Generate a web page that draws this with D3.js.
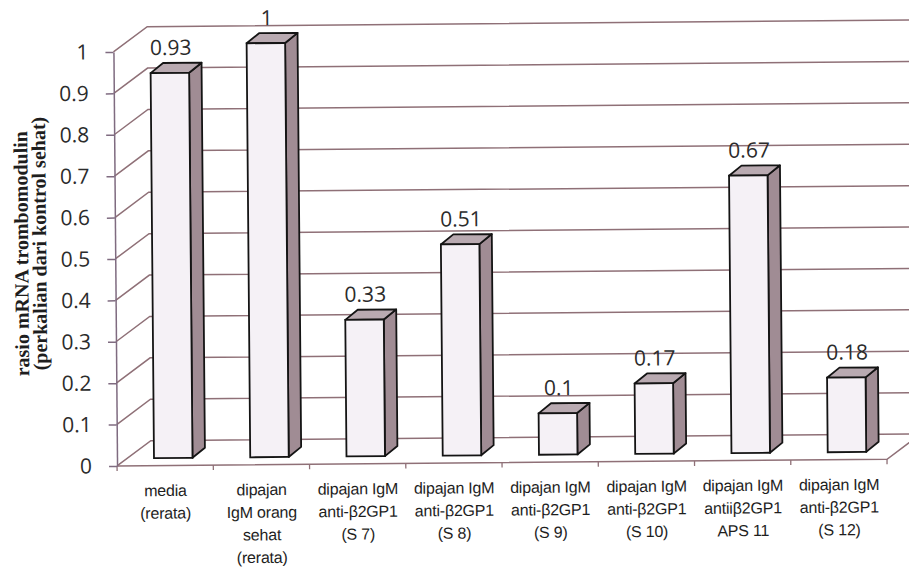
<!DOCTYPE html>
<html>
<head>
<meta charset="utf-8">
<script src="https://cdn.jsdelivr.net/npm/d3@7"></script>
<style>
  html, body { margin: 0; padding: 0; background: #ffffff; }
  svg { display: block; }
</style>
</head>
<body>
<svg id="chart" width="909" height="573"></svg>
<script>
// Thrombomodulin mRNA ratio per treatment group
const categories = [
  "media\n(rerata)",
  "dipajan\nIgM orang\nsehat\n(rerata)",
  "dipajan IgM\nanti-β2GP1\n(S 7)",
  "dipajan IgM\nanti-β2GP1\n(S 8)",
  "dipajan IgM\nanti-β2GP1\n(S 9)",
  "dipajan IgM\nanti-β2GP1\n(S 10)",
  "dipajan IgM\nantiiβ2GP1\nAPS 11",
  "dipajan IgM\nanti-β2GP1\n(S 12)"
];
const values = [0.93, 1, 0.33, 0.51, 0.1, 0.17, 0.67, 0.18];
const valueLabels = ["0.93", "1", "0.33", "0.51", "0.1", "0.17", "0.67", "0.18"];
const yTicks = [0, 0.1, 0.2, 0.3, 0.4, 0.5, 0.6, 0.7, 0.8, 0.9, 1];
const yTickLabels = ["0", "0.1", "0.2", "0.3", "0.4", "0.5", "0.6", "0.7", "0.8", "0.9", "1"];
const yTitle = ["rasio  mRNA trombomodulin", "(perkalian dari kontrol sehat)"];

const svg = d3.select("#chart");
// whole plot sits at a slight tilt
const g = svg.append("g").attr("transform", "rotate(-0.5, 454.5, 286.5)");

// front plane scales
const x = d3.scaleBand().domain(d3.range(categories.length)).range([115.5, 885.5]).padding(0);
const y = d3.scaleLinear().domain([0, 1]).range([463, 49]);

// oblique depth of the walls and of the bars
const wall = { dx: 34, dy: -25 };
const barSet = { dy: -7.5 };
const barInset = 37, barW = 38.5;
const side = { dx: 12.5, dy: -10 };

const gridColor = "#8f7077";
const axisColor = "#7f6b80";

// side-wall diagonals + back-wall horizontal gridlines
const x0 = x.range()[0];
const xEnd = x.range()[1] + wall.dx + 20;
g.append("g").selectAll("path").data(yTicks).join("path")
  .attr("d", v => `M${x0},${y(v)}L${x0 + wall.dx},${y(v) + wall.dy}L${xEnd},${y(v) + wall.dy}`)
  .attr("fill", "none").attr("stroke", gridColor).attr("stroke-width", 1.5);

// floor: front edge and right edge
const xr = x.range()[1];
g.append("path")
  .attr("d", `M${x0},${y(0)}L${xr},${y(0)}L${xr + wall.dx},${y(0) + wall.dy}`)
  .attr("fill", "none").attr("stroke", gridColor).attr("stroke-width", 1.5);

// category boundary ticks
g.append("g").selectAll("line").data(d3.range(categories.length + 1)).join("line")
  .attr("x1", i => x0 + i * x.step()).attr("x2", i => x0 + i * x.step())
  .attr("y1", y(0)).attr("y2", y(0) + 5)
  .attr("stroke", gridColor).attr("stroke-width", 1.3);

// value axis
const yAxis = d3.axisLeft(y).tickValues(yTicks)
  .tickFormat((d, i) => yTickLabels[i]).tickSize(8).tickSizeOuter(0).tickPadding(17);
const ya = g.append("g").attr("transform", `translate(${x0},0)`).call(yAxis);
ya.select(".domain").attr("stroke", axisColor).attr("stroke-width", 1.5);
ya.selectAll(".tick line").attr("stroke", axisColor).attr("stroke-width", 1.5);
ya.selectAll(".tick text")
  .attr("font-family", "'Open Sans', sans-serif").attr("font-size", 21).attr("fill", "#2b2b2b");

// value axis title
const title = g.append("g").attr("font-family", "'Liberation Serif', 'Times New Roman', serif")
  .attr("font-weight", "bold").attr("font-size", 20).attr("fill", "#1e1e1e")
  .attr("text-anchor", "middle").style("white-space", "pre");
title.append("text").attr("transform", "translate(28.5,250) rotate(-90)").text(yTitle[0]);
title.append("text").attr("transform", "translate(46.5,240) rotate(-90)").text(yTitle[1]);

// 3D columns
const yb = y.copy().range([y.range()[0] + barSet.dy, y.range()[1] + barSet.dy]);
const bars = g.append("g").selectAll("g").data(values).join("g");
const bx = (d, i) => x(i) + barInset;

bars.append("path") // right side face
  .attr("d", (d, i) => {
    const X = bx(d, i) + barW, t = yb(d), b = yb(0);
    return `M${X},${b}L${X + side.dx},${b + side.dy}L${X + side.dx},${t + side.dy}L${X},${t}Z`;
  })
  .attr("fill", "#a08c94").attr("stroke", "#141414").attr("stroke-width", 1.8).attr("stroke-linejoin", "round");

bars.append("path") // top face
  .attr("d", (d, i) => {
    const X = bx(d, i), t = yb(d);
    return `M${X},${t}L${X + side.dx},${t + side.dy}L${X + barW + side.dx},${t + side.dy}L${X + barW},${t}Z`;
  })
  .attr("fill", "#b9aab1").attr("stroke", "#141414").attr("stroke-width", 1.8).attr("stroke-linejoin", "round");

bars.append("rect") // front face
  .attr("x", (d, i) => bx(d, i)).attr("y", d => yb(d))
  .attr("width", barW).attr("height", d => yb(0) - yb(d))
  .attr("fill", "#f5f1f6").attr("stroke", "#141414").attr("stroke-width", 1.8);

// value labels
g.append("g").selectAll("text").data(values).join("text")
  .attr("x", (d, i) => bx(d, i) + barW / 2 + 1)
  .attr("y", d => yb(d) - 18)
  .attr("text-anchor", "middle")
  .attr("font-family", "'Open Sans', sans-serif").attr("font-size", 21).attr("fill", "#2b2b2b")
  .text((d, i) => valueLabels[i]);

// category labels
const cat = g.append("g").selectAll("text").data(categories).join("text")
  .attr("text-anchor", "middle")
  .attr("font-family", "'Liberation Sans', Arial, sans-serif").attr("font-size", 16)
  .attr("fill", "#1e1e1e").attr("letter-spacing", -0.2);
cat.each(function (d, i) {
  const cx = x(i) + x.bandwidth() / 2;
  d3.select(this).selectAll("tspan").data(d.split("\n")).join("tspan")
    .attr("x", cx).attr("y", (s, k) => 493.5 + k * 22.6).text(s => s);
});
</script>
</body>
</html>
